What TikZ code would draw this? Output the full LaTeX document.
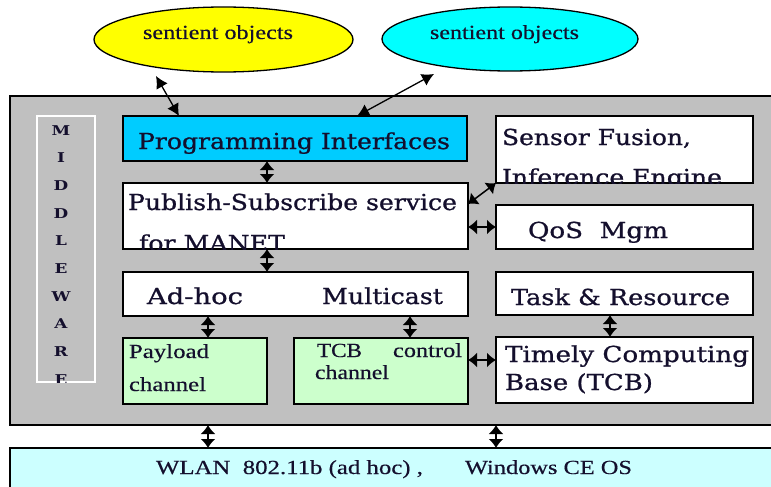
\documentclass[tikz,border=0pt]{standalone}
\usepackage{fontspec}
\usepackage{graphicx}
\setmainfont{Liberation Serif}[FakeBold=0.4]
\newfontfamily\bigf{DejaVu Serif}[FakeBold=0.8]
\newfontfamily\mwfont{DejaVu Serif Bold}
\usetikzlibrary{arrows.meta,shapes.geometric}
\definecolor{grayfill}{RGB}{192,192,192}
\definecolor{pifill}{RGB}{0,204,255}
\definecolor{yellowfill}{RGB}{255,255,0}
\definecolor{cyanfill}{RGB}{0,255,255}
\definecolor{greenfill}{RGB}{204,255,204}
\definecolor{wlanfill}{RGB}{204,255,255}
\definecolor{txtc}{RGB}{20,15,45}
\newlength\fitlen
\newcommand\fitw[2]{\settowidth\fitlen{#2}\pgfmathsetmacro\fitr{#1/\fitlen}\scalebox{\fitr}[1]{#2}}
\newcommand\smallf{\fontsize{20}{24}\selectfont}
\newcommand\largef{\bigf\fontsize{22}{26}\selectfont}
\tikzset{
  box/.style={draw=black, line width=1.3pt, anchor=north west, inner sep=0pt, outer sep=0pt},
  txt/.style={anchor=base west, inner sep=0pt, outer sep=0pt, text=txtc},
  dbl/.style={{Latex[length=9pt,width=15pt]}-{Latex[length=9pt,width=15pt]}, line width=1.5pt},
  dblbig/.style={{Latex[length=12pt,width=13pt]}-{Latex[length=12pt,width=13pt]}, line width=1.3pt},
  ell/.style={ellipse, draw=black, line width=1.3pt, inner sep=0pt}
}
\begin{document}
\begin{tikzpicture}[x=1pt,y=-1pt]
\clip (0,0) rectangle (771,487);
\fill[white] (0,0) rectangle (771,487);
% ellipses
\node[ell, fill=yellowfill, minimum width=259pt, minimum height=65pt] (yo) at (223.5,39.5) {};
\node[ell, fill=cyanfill, minimum width=256pt, minimum height=64pt] (co) at (510,39) {};
\node[txt] (yot) at (143,39) {\smallf\fitw{150}{sentient objects}};
\node[txt] (cot) at (430,39) {\smallf\fitw{149}{sentient objects}};
% main boxes
\node[box, fill=grayfill, minimum width=800pt, minimum height=329pt] (mwbox) at (10,96) {};
\node[box, draw=white, line width=1.3pt, minimum width=58pt, minimum height=266pt] (mid) at (37,116) {};
\node[box, fill=pifill, minimum width=344pt, minimum height=45pt] (pi) at (123,116) {};
\node[box, fill=white, minimum width=257pt, minimum height=67pt] (sf) at (496,116) {};
\node[box, fill=white, minimum width=345pt, minimum height=66pt] (ps) at (123,183) {};
\node[box, fill=white, minimum width=257pt, minimum height=44pt] (qos) at (496,205) {};
\node[box, fill=white, minimum width=345pt, minimum height=44pt] (ah) at (123,272) {};
\node[box, fill=white, minimum width=257pt, minimum height=43pt] (task) at (496,272) {};
\node[box, fill=greenfill, minimum width=144pt, minimum height=66pt] (pl) at (123,338) {};
\node[box, fill=greenfill, minimum width=174pt, minimum height=66pt] (tcb) at (294,338) {};
\node[box, fill=white, minimum width=257pt, minimum height=66pt] (tb) at (496,337) {};
\node[box, fill=wlanfill, minimum width=800pt, minimum height=60pt] (wl) at (10,448) {};
% middleware letters
\begin{scope}
\clip (37,116) rectangle (95,382);
\foreach \l [count=\i] in {M,I,D,D,L,E,W,A,R,E}{
  \node[anchor=base, inner sep=0pt, text=txtc] (mwl\i) at (61,{135+27.7*(\i-1)}) {\mwfont\fontsize{13.5}{16}\selectfont\scalebox{1.25}[1]{\l}};
}
\end{scope}
% texts
\node[txt] (pit) at (138,149) {\largef\fitw{312}{Programming Interfaces}};
\begin{scope}
\clip (496,116) rectangle (753,183);
\node[txt] (sft1) at (502,145) {\largef\fitw{189}{Sensor Fusion,}};
\node[txt] (sft2) at (502,185) {\largef\fitw{220}{Inference Engine}};
\end{scope}
\begin{scope}
\clip (123,183) rectangle (468,249);
\node[txt] (pst1) at (128,210) {\largef\fitw{329}{Publish-Subscribe service}};
\node[txt] (pst2) at (139,251) {\largef\fitw{146}{for MANET}};
\end{scope}
\node[txt] (qost) at (528,238) {\largef\fitw{140}{QoS\ \ Mgm}};
\node[txt] (aht1) at (147,304) {\largef\fitw{96}{Ad-hoc}};
\node[txt] (aht2) at (322,304) {\largef\fitw{121}{Multicast}};
\node[txt] (taskt) at (511,305) {\largef\fitw{219}{Task \& Resource}};
\node[txt] (tbt1) at (505,362) {\largef\fitw{244}{Timely Computing}};
\node[txt] (tbt2) at (505,390) {\largef\fitw{148}{Base (TCB)}};
\node[txt] (plt1) at (129,358) {\smallf\fitw{80}{Payload}};
\node[txt] (plt2) at (129,391) {\smallf\fitw{77}{channel}};
\node[txt] (tcbt1) at (317,357) {\smallf\fitw{45}{TCB}};
\node[txt] (tcbt2) at (393,357) {\smallf\fitw{69}{control}};
\node[txt] (tcbt3) at (315,379) {\smallf\fitw{74}{channel}};
\node[txt] (wlt1) at (156,474) {\smallf\fitw{267}{WLAN\ \ 802.11b (ad hoc) ,}};
\node[txt] (wlt2) at (465,474) {\smallf\fitw{167}{Windows CE OS}};
% connector reference coordinates
\coordinate (ytip) at (156,76);
\coordinate (ctip) at (434,74);
\coordinate (c179) at (179,0);
\coordinate (c357) at (357,0);
\coordinate (c267) at (267,0);
\coordinate (c208) at (208,0);
\coordinate (c410) at (410,0);
\coordinate (c610) at (610,0);
\coordinate (c496) at (496,0);
\coordinate (r204) at (0,204);
\coordinate (r360) at (0,360);
% connectors
\draw[dblbig] (ytip) -- (pi.north -| c179);
\draw[dblbig] (ctip) -- (pi.north -| c357);
\draw[dbl] (pi.south -| c267) -- (ps.north -| c267);
\draw[dbl] (ps.south -| c267) -- (ah.north -| c267);
\draw[dbl] (ps.east |- r204) -- (sf.south west);
\draw[dbl] (ps.east |- qos.west) -- (qos.west);
\draw[dbl] (ah.south -| c208) -- (pl.north -| c208);
\draw[dbl] (ah.south -| c410) -- (tcb.north -| c410);
\draw[dbl] (task.south -| c610) -- (tb.north -| c610);
\draw[dbl] (tcb.east |- r360) -- (tb.west |- r360);
\draw[dbl] (mwbox.south -| c208) -- (wl.north -| c208);
\draw[dbl] (mwbox.south -| c496) -- (wl.north -| c496);
\end{tikzpicture}
\end{document}
